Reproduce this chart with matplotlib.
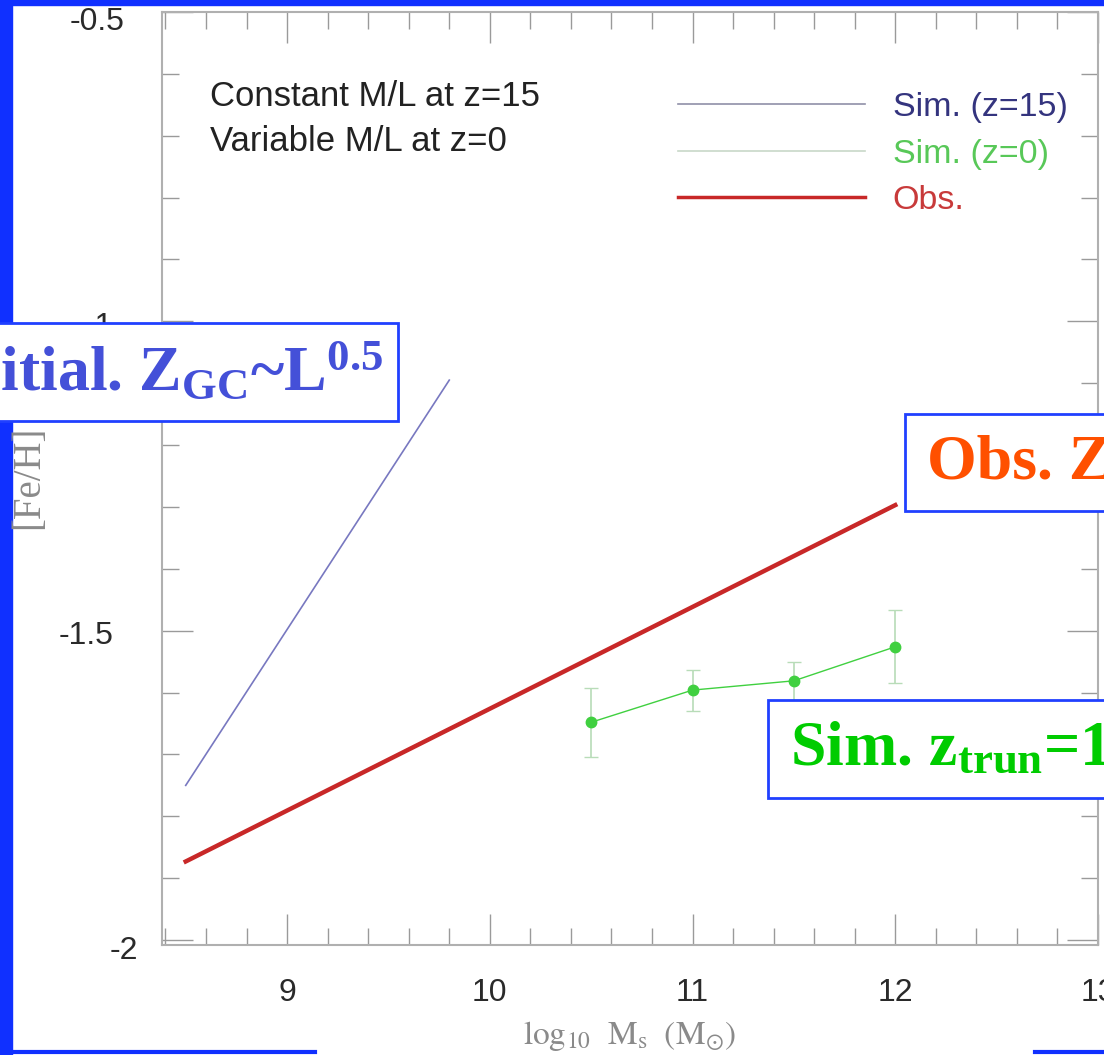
"""Recreate the [Fe/H] vs log10 Ms slide figure (GC metallicity-luminosity)."""
import matplotlib
matplotlib.use("Agg")
import matplotlib.pyplot as plt
from matplotlib.lines import Line2D
from matplotlib.patches import Rectangle
from matplotlib.ticker import MultipleLocator
from matplotlib.transforms import ScaledTranslation

# --- data ---
SIM15_X = [8.5, 9.8]
SIM15_Y = [-1.75, -1.095]
OBS_X = [8.5, 12.0]
OBS_Y = [-1.873, -1.297]
SIM0_X = [10.5, 11.0, 11.5, 12.0]
SIM0_Y = [-1.648, -1.596, -1.581, -1.526]
SIM0_ERR = [0.056, 0.033, 0.031, 0.059]

X_TICKS = [9, 10, 11, 12, 13]
Y_TICKS = [-2.0, -1.5, -1.0, -0.5]
Y_TICKLABELS = ["-2", "-1.5", "-1", "-0.5"]
LEGEND_LABELS = ["Sim. (z=15)", "Sim. (z=0)", "Obs."]
LEGEND_COLORS = ["#34347e", "#58c858", "#c83a3a"]

W, H = 1104, 1055

plt.rcParams.update({
    "font.family": ["Liberation Sans", "DejaVu Sans"],
    "mathtext.fontset": "custom",
    "mathtext.rm": "Liberation Serif:bold",
    "mathtext.it": "Liberation Serif:bold",
    "mathtext.bf": "Liberation Serif:bold",
})


def fx(px):
    return px / W


def fy(py):
    return 1 - py / H


fig = plt.figure(figsize=(W / 100, H / 100), dpi=100)
ax = fig.add_axes([fx(162), fy(945), fx(1098) - fx(162), fy(12) - fy(945)])

ax.plot(SIM15_X, SIM15_Y, color="#7878c0", lw=1.2)
ax.plot(OBS_X, OBS_Y, color="#c82828", lw=3.2)
ax.errorbar(SIM0_X, SIM0_Y, yerr=SIM0_ERR, fmt="-o", color="#40d040",
            ms=7.5, lw=1.0, ecolor="#b8dcb8", elinewidth=1.2, capsize=5)

ax.set_xlim(8.383, 13.0)
ax.set_ylim(-2.008, -0.5)
ax.set_xticks(X_TICKS)
ax.set_yticks(Y_TICKS)
ax.set_yticklabels(Y_TICKLABELS)
ax.xaxis.set_minor_locator(MultipleLocator(0.2))
ax.yaxis.set_minor_locator(MultipleLocator(0.1))
ax.tick_params(which="both", direction="in", top=True, right=True,
               color="#9a9a9a", width=1.0, labelcolor="#2a2a2a", labelsize=23)
ax.tick_params(which="major", length=22)
ax.tick_params(which="minor", length=12)
ax.tick_params(axis="y", which="major", pad=35)
ax.tick_params(axis="x", which="major", pad=24)
for sp in ax.spines.values():
    sp.set_color("#b0b0b0")
    sp.set_linewidth(1.5)

# the y labels in the original sit a little unevenly (px shifts right / down)
shifts = {"-2": (25, 7), "-1.5": (0, 2), "-1": (0, 2), "-0.5": (11, 7)}
for lab in ax.get_yticklabels():
    dx, dy = shifts[lab.get_text()]
    lab.set_transform(lab.get_transform() + ScaledTranslation(dx / 100, -dy / 100, fig.dpi_scale_trans))

ax.text(0.051, 0.909, "Constant M/L at z=15", transform=ax.transAxes,
        fontsize=25, color="#222222", va="center")
ax.text(0.051, 0.861, "Variable M/L at z=0", transform=ax.transAxes,
        fontsize=25, color="#222222", va="center")

handles = [Line2D([], [], color="#9090a8", lw=1.2),
           Line2D([], [], color="#c8d8c8", lw=1.2),
           Line2D([], [], color="#c82828", lw=2.5)]
ax.legend(handles, LEGEND_LABELS, loc="upper left", bbox_to_anchor=(0.551, 0.914),
          frameon=False, fontsize=24.5, handlelength=5.5, handletextpad=0.82,
          labelspacing=0.45, borderpad=0, borderaxespad=0, labelcolor=LEGEND_COLORS)

fig.text(fx(29), fy(477), "[Fe/H]", rotation=90, ha="center", va="center",
         fontsize=28, color="#8a8a8a", family="Liberation Serif")
fig.text(fx(630), fy(1036), r"$\mathrm{log}_{10}\ \ \mathrm{M}_{\mathrm{s}}\ \ (\mathrm{M}_{\odot})$",
         ha="center", va="center", fontsize=24, color="#8a8a8a", math_fontfamily="stix")

# slide frame (blue)
blue = "#1030ff"
fig.patches.append(Rectangle((0, 0), fx(12), 1, transform=fig.transFigure,
                             color=blue, zorder=2))
fig.patches.append(Rectangle((0, fy(5)), 1, fy(0) - fy(5), transform=fig.transFigure,
                             color=blue, zorder=2))
fig.lines.append(Line2D([0, fx(315)], [fy(1052), fy(1052)], transform=fig.transFigure,
                        color=blue, lw=3, zorder=2))
fig.lines.append(Line2D([fx(1035), 1], [fy(1052), fy(1052)], transform=fig.transFigure,
                        color=blue, lw=3, zorder=2))

# overlaid slide labels
boxes = [
    ((-200, 323, 398, 421), r"Initial. Z$_{\mathrm{GC}}$~L$^{0.5}$", "#4450d8", (383, "right")),
    ((905, 414, 1300, 511), "Obs. Z", "#ff5000", (927, "left")),
    ((768, 700, 1300, 798), r"Sim. z$_{\mathrm{trun}}$=1", "#00cc00", (790, "left")),
]
for (x0, y0, x1, y1), txt, col, (tx, ha) in boxes:
    fig.patches.append(Rectangle((fx(x0), fy(y1)), fx(x1) - fx(x0), fy(y0) - fy(y1),
                                 transform=fig.transFigure, facecolor="white",
                                 edgecolor="#2040ff", lw=2, zorder=5))
    fig.text(fx(tx), fy((y0 + y1) / 2 + 1), txt, ha=ha, va="center", fontsize=46,
             fontweight="bold", family="Liberation Serif", color=col, zorder=6,
             math_fontfamily="custom")

fig.savefig("out.png", dpi=100)
